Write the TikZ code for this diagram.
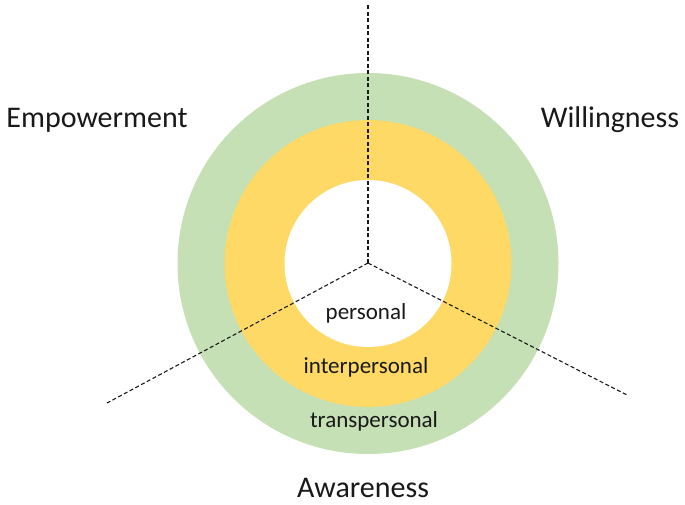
\documentclass[tikz,border=0pt]{standalone}
\usepackage{fontspec}
\setmainfont{Carlito}
\definecolor{ringgreen}{HTML}{C5E0B4}
\definecolor{ringyellow}{HTML}{FFD966}
\tikzset{
  axis/.style={black!90,line width=1.1pt,dash pattern=on 4pt off 2.5pt},
  dimension/.style={font=\fontsize{30}{34}\selectfont,text=black!90,inner sep=0pt},
  level/.style={font=\fontsize{23}{26}\selectfont,text=black!90,inner sep=0pt}
}
\begin{document}
\begin{tikzpicture}[x=1pt,y=-1pt]
\useasboundingbox (0,0) rectangle (685,505);

% Rings
\fill[ringgreen] (368,263.5) circle (190.5);
\fill[ringyellow] (368,263.5) circle (143.5);
\fill[white] (368,263.5) circle (83.5);

% Axes
\coordinate (c) at (368,263);
\coordinate (top) at (368,4);
\coordinate (left) at (107,403);
\coordinate (right) at (627,395);
\draw[axis] (c) -- (top);
\draw[axis] (c) -- (left);
\draw[axis] (c) -- (right);

% Dimensions
\node[dimension] (empower) at (97,120) {Empowerment};
\node[dimension] (willing) at (610,120) {Willingness};
\node[dimension] (aware) at (363,488) {Awareness};

% Levels
\node[level] (personal) at (366,313) {personal};
\node[level] (inter) at (366,367) {interpersonal};
\node[level] (trans) at (374,421) {transpersonal};

\end{tikzpicture}
\end{document}
